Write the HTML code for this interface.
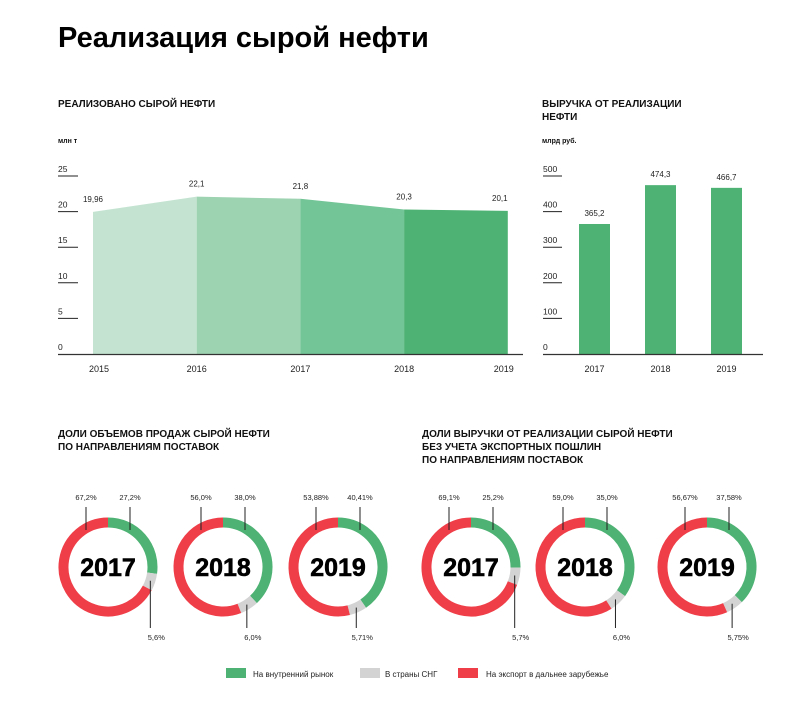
<!DOCTYPE html>
<html><head><meta charset="utf-8"><style>
html,body{margin:0;padding:0;background:#fff;}
svg{display:block;font-family:"Liberation Sans","DejaVu Sans",sans-serif;}
</style></head><body>
<svg id="root" width="796" height="716" viewBox="0 0 796 716">
<text x="58" y="47" font-size="29" font-weight="bold" fill="#000">Реализация сырой нефти</text>
<text x="58" y="107" font-size="10" font-weight="bold" fill="#111">РЕАЛИЗОВАНО СЫРОЙ НЕФТИ</text>
<text x="58" y="143" font-size="7" font-weight="bold" fill="#111">млн т</text>
<text x="542" y="107" font-size="10" font-weight="bold" fill="#111">ВЫРУЧКА ОТ РЕАЛИЗАЦИИ</text>
<text x="542" y="120" font-size="10" font-weight="bold" fill="#111">НЕФТИ</text>
<text x="542" y="143" font-size="7" font-weight="bold" fill="#111">млрд руб.</text>
<text x="58" y="437" font-size="10" font-weight="bold" fill="#111">ДОЛИ ОБЪЕМОВ ПРОДАЖ СЫРОЙ НЕФТИ</text>
<text x="58" y="450" font-size="10" font-weight="bold" fill="#111">ПО НАПРАВЛЕНИЯМ ПОСТАВОК</text>
<text x="422" y="437" font-size="10" font-weight="bold" fill="#111">ДОЛИ ВЫРУЧКИ ОТ РЕАЛИЗАЦИИ СЫРОЙ НЕФТИ</text>
<text x="422" y="450" font-size="10" font-weight="bold" fill="#111">БЕЗ УЧЕТА ЭКСПОРТНЫХ ПОШЛИН</text>
<text x="422" y="463" font-size="10" font-weight="bold" fill="#111">ПО НАПРАВЛЕНИЯМ ПОСТАВОК</text>
<g id="area"></g><g id="bars"></g><g id="donuts"></g>
<g>
<rect x="226" y="668" width="20" height="10" fill="#4db273"/>
<text x="253" y="677" font-size="8" fill="#222">На внутренний рынок</text>
<rect x="360" y="668" width="20" height="10" fill="#d3d3d3"/>
<text x="385" y="677" font-size="8" fill="#222">В страны СНГ</text>
<rect x="458" y="668" width="20" height="10" fill="#ef3e48"/>
<text x="486" y="677" font-size="8" fill="#222">На экспорт в дальнее зарубежье</text>
</g>
</svg>
<script>
const NS="http://www.w3.org/2000/svg";
const years=["2015","2016","2017","2018","2019"];
const volumes=[19.96,22.1,21.8,20.3,20.1];
const volumeLabels=["19,96","22,1","21,8","20,3","20,1"];
const volumeTicks=[0,5,10,15,20,25];
const revYears=["2017","2018","2019"];
const revenue=[365.2,474.3,466.7];
const revenueLabels=["365,2","474,3","466,7"];
const revenueTicks=[0,100,200,300,400,500];
const donutYears=["2017","2018","2019"];
const volDomestic=[27.2,38.0,40.41];
const volCis=[5.6,6.0,5.71];
const volExport=[67.2,56.0,53.88];
const volDomLabels=["27,2%","38,0%","40,41%"];
const volCisLabels=["5,6%","6,0%","5,71%"];
const volExpLabels=["67,2%","56,0%","53,88%"];
const revDomestic=[25.2,35.0,37.58];
const revCis=[5.7,6.0,5.75];
const revExport=[69.1,59.0,56.67];
const revDomLabels=["25,2%","35,0%","37,58%"];
const revCisLabels=["5,7%","6,0%","5,75%"];
const revExpLabels=["69,1%","59,0%","56,67%"];

function mk(tag,attrs,parent,txt){const e=document.createElementNS(NS,tag);for(const k in attrs)e.setAttribute(k,attrs[k]);if(txt!=null)e.textContent=txt;parent.appendChild(e);return e;}

// area chart
const gA=document.getElementById('area');
const ay=v=>354-v*(178/25);
const ax=i=>93+i*103.7;
volumeTicks.forEach(t=>{
  if(t>0){const l=mk('line',{x1:58,x2:78,y1:ay(t),y2:ay(t),stroke:'#222','stroke-width':1},gA);
  }
  const tx=mk('text',{x:58,y:ay(t)-4,'font-size':8.5,fill:'#222'},gA,String(t));
  
});
const areaColors=["#c4e4d1","#9dd3b1","#73c597","#4db273"];
for(let i=0;i<volumes.length-1;i++){
  const p=mk('polygon',{points:`${ax(i)},${ay(0)} ${ax(i)},${ay(volumes[i])} ${ax(i+1)},${ay(volumes[i+1])} ${ax(i+1)},${ay(0)}`,fill:areaColors[i]},gA);
  
}
volumes.forEach((v,i)=>{
  const t=mk('text',{x:ax(i)+(i==4?-8:0),y:ay(v)-10,'font-size':8,fill:'#222','text-anchor':'middle'},gA,volumeLabels[i]);
  
  const y=mk('text',{x:ax(i)+(i==4?-4:i==0?6:0),y:372,'font-size':9,fill:'#222','text-anchor':'middle'},gA,years[i]);
  
});
const axl=mk('line',{x1:58,x2:523,y1:354.5,y2:354.5,stroke:'#333','stroke-width':1.2},gA);


// bars
const gB=document.getElementById('bars');
const by=v=>354-v*(178/500);
const bx=i=>579+i*66;
revenueTicks.forEach(t=>{
  if(t>0){const l=mk('line',{x1:543,x2:562,y1:by(t),y2:by(t),stroke:'#222','stroke-width':1},gB);
  }
  const tx=mk('text',{x:543,y:by(t)-4,'font-size':8.5,fill:'#222'},gB,String(t));
  
});
revenue.forEach((v,i)=>{
  const r=mk('rect',{x:bx(i),y:by(v),width:31,height:by(0)-by(v),fill:'#4db273'},gB);
  
  const t=mk('text',{x:bx(i)+15.5,y:by(v)-8,'font-size':8,fill:'#222','text-anchor':'middle'},gB,revenueLabels[i]);
  
  const y=mk('text',{x:bx(i)+15.5,y:372,'font-size':9,fill:'#222','text-anchor':'middle'},gB,revYears[i]);
  
});
const bxl=mk('line',{x1:543,x2:763,y1:354.5,y2:354.5,stroke:'#333','stroke-width':1.2},gB);


// donuts
const gD=document.getElementById('donuts');
const R=44.5, SW=10, CY=567;
function arc(cx,cy,r,a0,a1){
  const p=a=>[cx+r*Math.sin(a*2*Math.PI/100),cy-r*Math.cos(a*2*Math.PI/100)];
  const [x0,y0]=p(a0),[x1,y1]=p(a1);
  return `M${x0},${y0} A${r},${r} 0 ${a1-a0>50?1:0} 1 ${x1},${y1}`;
}
function donut(cx,prefix,year,d,c,e,dl,cl,el){
  const g=mk('g',{},gD);
  
  const tot=d+c+e;const s1=d/tot*100,s2=(d+c)/tot*100;
  const segs=[[0,s1,'#4db273','domestic'],[s1,s2,'#d3d3d3','cis'],[s2,100,'#ef3e48','export']];
  segs.forEach(s=>{const p=mk('path',{d:arc(cx,CY,R,s[0],s[1]),fill:'none',stroke:s[2],'stroke-width':SW},g);
    });
  const t=mk('text',{x:cx,y:CY+9,'font-size':25,'font-weight':'bold',fill:'#000','text-anchor':'middle',stroke:'#000','stroke-width':0.6},g,year);
  
  const lines=[[cx+22,507,cx+22,530,dl,cx+22,500],[cx-22,507,cx-22,530,el,cx-22,500]];
  const ca=(s1+s2)/2*2*Math.PI/100;const gx=cx+R*Math.sin(ca);
  lines.push([gx,CY-R*Math.cos(ca),gx,628,cl,gx+6,640]);
  lines.forEach((L,k)=>{
    const l=mk('line',{x1:L[0],y1:L[1],x2:L[2],y2:L[3],stroke:'#222','stroke-width':1},g);
    
    const tx=mk('text',{x:L[5],y:L[6],'font-size':7.5,fill:'#222','text-anchor':'middle'},g,L[4]);
    
  });
}
const volCx=[108,223,338], revCx=[471,585,707];
donutYears.forEach((y,i)=>donut(volCx[i],'volume',y,volDomestic[i],volCis[i],volExport[i],volDomLabels[i],volCisLabels[i],volExpLabels[i]));
donutYears.forEach((y,i)=>donut(revCx[i],'revenue',y,revDomestic[i],revCis[i],revExport[i],revDomLabels[i],revCisLabels[i],revExpLabels[i]));
</script>
</body></html>
